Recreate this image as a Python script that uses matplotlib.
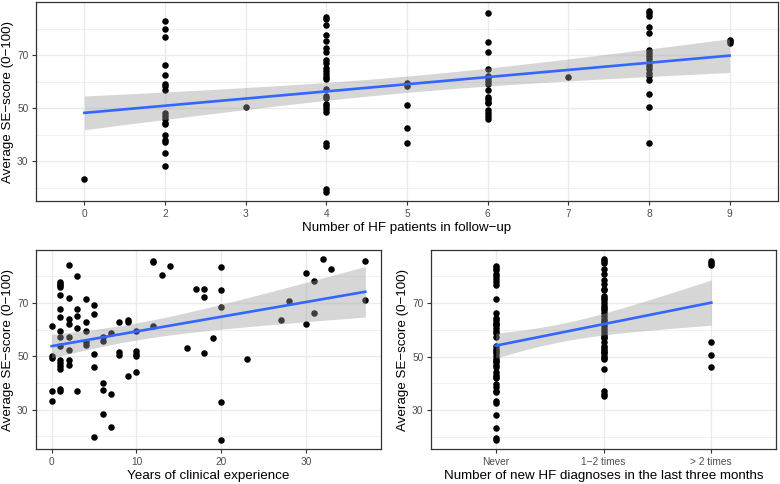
import numpy as np
import matplotlib.pyplot as plt

plt.rcParams['font.family'] = ['Liberation Sans', 'DejaVu Sans']

# Panel 1: number of HF patients in follow-up (discrete categories)
hf_levels = ['0', '2', '3', '4', '5', '6', '7', '8', '9']
hf_scores = {
    '0': [23.2],
    '2': [82.9, 79.9, 76.7, 66.3, 62.6, 59.3, 58.2, 57.0, 48.2, 47.1, 46.1, 44.6,
          43.9, 39.8, 38.1, 37.2, 33.0, 28.1],
    '3': [50.4],
    '4': [84.5, 83.6, 81.4, 77.7, 75.5, 72.7, 71.2, 68.0, 67.2, 65.3, 64.1, 62.8,
          61.8, 61.0, 57.3, 54.5, 53.9, 51.7, 50.7, 49.8, 48.6, 37.1, 35.8, 19.5, 18.5],
    '5': [59.7, 58.5, 51.4, 42.5, 36.8],
    '6': [85.7, 74.9, 71.1, 64.7, 62.2, 61.3, 60.3, 59.1, 56.9, 54.4, 53.4, 52.5,
          51.9, 49.2, 48.2, 47.0, 46.0],
    '7': [61.6],
    '8': [86.6, 85.7, 84.9, 80.5, 78.3, 72.1, 70.9, 69.6, 68.4, 67.1, 65.9, 64.7,
          63.4, 62.2, 60.6, 55.4, 50.4, 36.8],
    '9': [75.8, 75.2, 74.6],
}

# Panel 2: years of clinical experience
years = [0, 0, 0, 0, 0,
         1, 1, 1, 1, 1, 1, 1, 1, 1, 1, 1, 1, 1, 1, 1, 1,
         2, 2, 2, 2, 2, 2, 2, 2,
         3, 3, 3, 3, 3,
         4, 4, 4, 4, 4,
         5, 5, 5, 5, 5,
         6, 6, 6, 6, 6,
         7, 7, 7,
         8, 8, 8,
         9, 9, 9,
         10, 10, 10, 10, 10,
         12, 12, 12, 13, 14, 16, 17, 18, 18, 18, 19,
         20, 20, 20, 20, 20,
         23, 27, 28, 30, 30, 31, 31, 32, 33, 37, 37]
exp_scores = [61.3, 50.2, 49.4, 36.9, 33.2,
              77.9, 77.2, 76.6, 75.9, 73.0, 67.9, 64.8, 59.6, 57.4, 53.7, 48.5, 47.5,
              46.2, 45.4, 37.9, 36.9,
              84.4, 71.7, 63.9, 62.1, 57.1, 52.2, 48.5, 46.6,
              80.2, 67.6, 65.2, 60.8, 37.1,
              71.6, 62.7, 59.4, 55.3, 54.4,
              69.4, 65.8, 50.9, 46.0, 19.7,
              57.2, 55.6, 39.8, 37.2, 28.3,
              58.9, 35.8, 23.4,
              62.7, 51.8, 50.6,
              63.7, 62.7, 42.6,
              59.4, 51.9, 50.9, 50.3, 44.1,
              85.9, 85.4, 61.3, 80.6, 84.0, 53.0, 75.1, 75.3, 72.2, 51.4, 57.0,
              83.4, 74.8, 68.5, 32.7, 18.5,
              49.1, 63.6, 70.6, 81.4, 62.2, 78.4, 66.4, 86.5, 82.9, 85.6, 71.1]

# Panel 3: new HF diagnoses in the last three months
diag_levels = ['Never', '1\u22122 times', '> 2 times']
diag_scores = {
    'Never': [84.0, 83.1, 82.3, 81.0, 80.0, 79.0, 77.8, 76.9, 71.6, 66.4, 64.6, 63.7,
              62.7, 62.2, 61.7, 60.8, 59.6, 58.7, 57.5, 54.0, 53.0, 52.2, 51.3, 50.3,
              49.0, 48.4, 47.8, 47.0, 46.0, 44.1, 43.1, 42.5, 41.9, 39.8, 38.6, 37.3,
              36.7, 33.2, 32.6, 28.0, 23.3, 19.6, 18.7],
    '1\u22122 times': [86.5, 85.6, 85.0, 82.8, 81.0, 78.8, 77.3, 75.3, 74.8, 72.8, 72.0,
                       71.1, 70.1, 69.1, 68.3, 67.4, 66.4, 65.2, 64.2, 63.3, 62.4, 61.5,
                       60.5, 59.2, 58.0, 57.5, 56.8, 55.3, 54.1, 53.3, 52.5, 51.8, 51.3,
                       50.3, 49.6, 49.1, 45.4, 37.3, 36.1, 35.2],
    '> 2 times': [85.6, 85.0, 84.3, 55.6, 50.6, 46.0],
}

ylab = 'Average SE\u2212score (0\u2212100)'


def flatten(levels, groups):
    xs, ys = [], []
    for i, lev in enumerate(levels):
        xs += [i] * len(groups[lev])
        ys += groups[lev]
    return np.array(xs, float), np.array(ys, float)


def smooth(ax, x, y):
    # lm fit with 95% confidence band, as geom_smooth(method = "lm")
    b, a = np.polyfit(x, y, 1)
    n = len(x)
    s = np.sqrt(np.sum((y - (a + b * x)) ** 2) / (n - 2))
    xs = np.linspace(x.min(), x.max(), 100)
    fit = a + b * xs
    se = s * np.sqrt(1 / n + (xs - x.mean()) ** 2 / np.sum((x - x.mean()) ** 2))
    ax.fill_between(xs, fit - 1.987 * se, fit + 1.987 * se, color='#999999',
                    alpha=0.4, lw=0, zorder=3)
    ax.plot(xs, fit, color='#3366FF', lw=1.9, zorder=4)


def style(ax, y, xlabel):
    lo, hi = y.min(), y.max()
    pad = 0.05 * (hi - lo)
    ax.set_ylim(lo - pad, hi + pad)
    ax.set_yticks([30, 50, 70])
    ax.set_yticks([20, 40, 60, 80], minor=True)
    ax.grid(True, which='major', color='#EBEBEB', lw=1.0)
    ax.grid(True, which='minor', axis='y', color='#EBEBEB', lw=0.5)
    ax.set_axisbelow(True)
    for sp in ax.spines.values():
        sp.set_color('#333333')
        sp.set_linewidth(0.9)
    ax.tick_params(which='major', color='#333333', length=3, width=0.8,
                   labelcolor='#4D4D4D', labelsize=7.3, pad=2.5)
    ax.tick_params(which='minor', length=0)
    ax.set_xlabel(xlabel, fontsize=9.6, labelpad=2.5)
    ax.set_ylabel(ylab, fontsize=9.6, labelpad=2.5)


fig = plt.figure(figsize=(7.8, 4.84), dpi=100)


def px_axes(l, t, r, b):
    return fig.add_axes([l / 780, 1 - b / 484, (r - l) / 780, (b - t) / 484])


# top panel
ax1 = px_axes(36, 2, 778, 201)
x1, y1 = flatten(hf_levels, hf_scores)
ax1.scatter(x1, y1, s=22, color='black', lw=0, zorder=2)
smooth(ax1, x1, y1)
ax1.set_xlim(-0.6, len(hf_levels) - 0.4)
ax1.set_xticks(range(len(hf_levels)))
ax1.set_xticklabels(hf_levels)
style(ax1, y1, 'Number of HF patients in follow\u2212up')

# bottom left
ax2 = px_axes(36, 250, 381, 449.3)
x2 = np.array(years, float)
y2 = np.array(exp_scores, float)
ax2.scatter(x2, y2, s=22, color='black', lw=0, zorder=2)
smooth(ax2, x2, y2)
rng = x2.max() - x2.min()
ax2.set_xlim(x2.min() - 0.05 * rng, x2.max() + 0.05 * rng)
ax2.set_xticks([0, 10, 20, 30])
ax2.set_xticks([5, 15, 25, 35], minor=True)
style(ax2, y2, 'Years of clinical experience')

# bottom right
ax3 = px_axes(431, 250, 776, 449.3)
x3, y3 = flatten(diag_levels, diag_scores)
ax3.scatter(x3, y3, s=22, color='black', lw=0, zorder=2)
smooth(ax3, x3, y3)
ax3.set_xlim(-0.6, len(diag_levels) - 0.4)
ax3.set_xticks(range(len(diag_levels)))
ax3.set_xticklabels(diag_levels)
style(ax3, y3, 'Number of new HF diagnoses in the last three months')

fig.savefig('out.png', dpi=100)
